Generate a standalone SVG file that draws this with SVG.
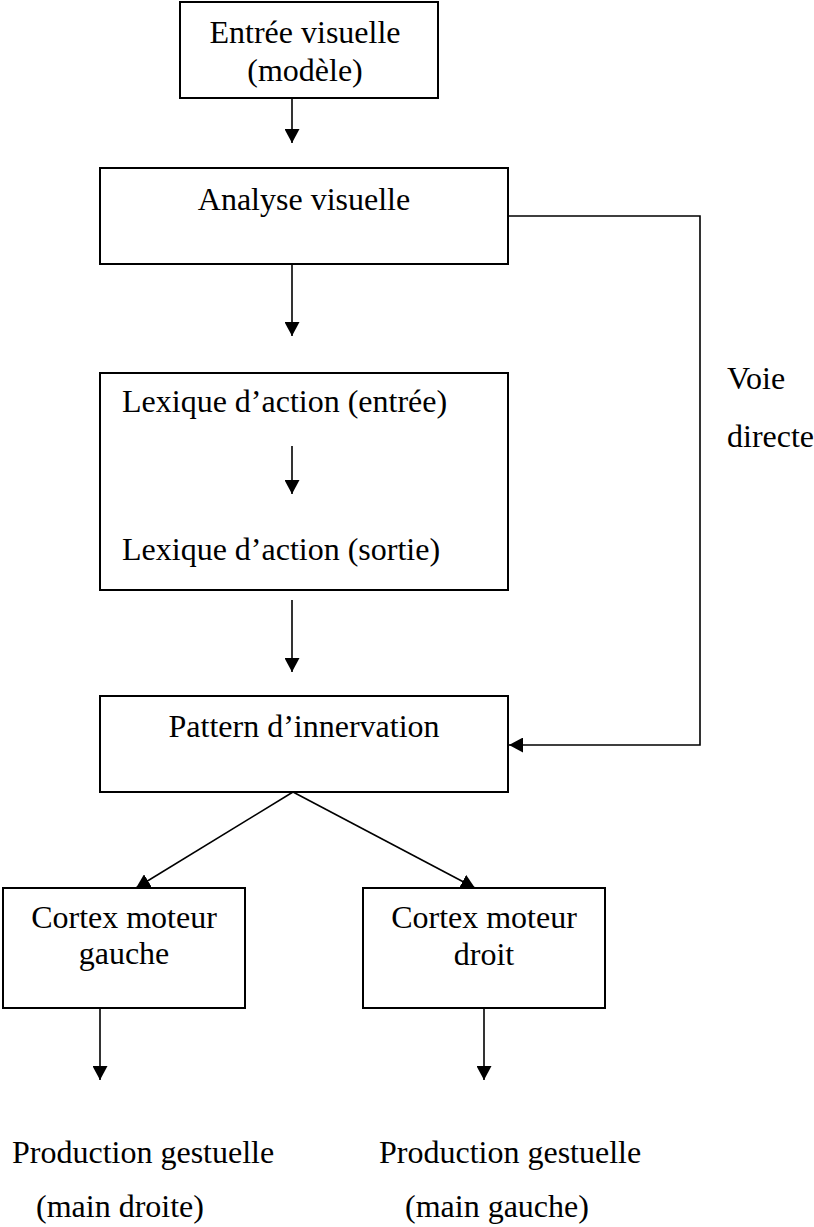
<svg xmlns="http://www.w3.org/2000/svg" width="814" height="1227" viewBox="0 0 814 1227">
<style>
.box{fill:#fff;stroke:#000;stroke-width:2}
.t{font-family:"Liberation Serif","Times New Roman",serif;font-size:32px;fill:#000}
.c{text-anchor:middle}
.ln{fill:none;stroke:#000;stroke-width:1.6}
</style>
<defs>
<marker id="ah" markerUnits="userSpaceOnUse" markerWidth="15" markerHeight="15" refX="14" refY="7.5" orient="auto" viewBox="0 0 15 15">
<path d="M0,0 L14,7.5 L0,15 z" fill="#000"/>
</marker>
</defs>
<rect width="814" height="1227" fill="#fff"/>
<g id="connectors">
<line class="ln" x1="292" y1="98" x2="292" y2="143" marker-end="url(#ah)"/>
<line class="ln" x1="292" y1="264" x2="292" y2="336" marker-end="url(#ah)"/>
<line class="ln" x1="292" y1="600" x2="292" y2="672" marker-end="url(#ah)"/>
<polyline class="ln" points="508,216 700,216 700,745 509,745" marker-end="url(#ah)"/>
<line class="ln" x1="293" y1="792" x2="136" y2="888" marker-end="url(#ah)"/>
<line class="ln" x1="293" y1="792" x2="475" y2="888" marker-end="url(#ah)"/>
<line class="ln" x1="100" y1="1008" x2="100" y2="1080" marker-end="url(#ah)"/>
<line class="ln" x1="484" y1="1008" x2="484" y2="1080" marker-end="url(#ah)"/>
</g>
<g id="entree">
<rect class="box" x="180" y="2" width="258" height="96"/>
<text class="t c" x="305" y="43">Entrée visuelle</text>
<text class="t c" x="305" y="81">(modèle)</text>
</g>
<g id="analyse">
<rect class="box" x="100" y="168" width="408" height="96"/>
<text class="t c" x="304" y="210">Analyse visuelle</text>
</g>
<g id="lexique">
<rect class="box" x="100" y="373" width="408" height="217"/>
<text class="t" x="122" y="412">Lexique d’action (entrée)</text>
<line class="ln" x1="292" y1="446" x2="292" y2="494" marker-end="url(#ah)"/>
<text class="t" x="122" y="560">Lexique d’action (sortie)</text>
</g>
<g id="voie">
<text class="t" x="727" y="389">Voie</text>
<text class="t" x="727" y="447">directe</text>
</g>
<g id="pattern">
<rect class="box" x="100" y="696" width="408" height="96"/>
<text class="t c" x="304" y="737">Pattern d’innervation</text>
</g>
<g id="cortex-gauche">
<rect class="box" x="3" y="888" width="242" height="120"/>
<text class="t c" x="124" y="928">Cortex moteur</text>
<text class="t c" x="124" y="964">gauche</text>
</g>
<g id="cortex-droit">
<rect class="box" x="363" y="888" width="242" height="120"/>
<text class="t c" x="484" y="928">Cortex moteur</text>
<text class="t c" x="484" y="965">droit</text>
</g>
<g id="production-droite">
<text class="t" x="12" y="1163">Production gestuelle</text>
<text class="t" x="36" y="1217">(main droite)</text>
</g>
<g id="production-gauche">
<text class="t" x="379" y="1163">Production gestuelle</text>
<text class="t" x="405" y="1217">(main gauche)</text>
</g>
</svg>
